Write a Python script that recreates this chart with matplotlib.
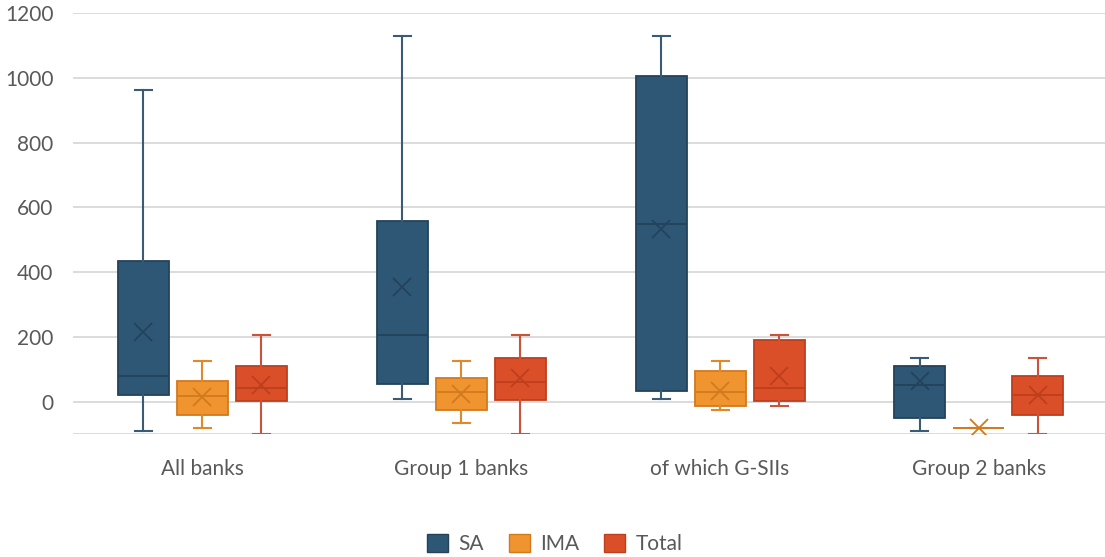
import matplotlib
matplotlib.use("Agg")
import matplotlib.pyplot as plt
from matplotlib.patches import Patch
import numpy as np

plt.rcParams['font.family'] = ['Lato', 'DejaVu Sans']

categories = ["All banks", "Group 1 banks", "of which G-SIIs", "Group 2 banks"]
series = ["SA", "IMA", "Total"]

# per series: values for each category
sa_whislo = [-92, 8, 8, -92]
sa_q1 = [21, 55, 34, -52]
sa_med = [80, 206, 547, 52]
sa_q3 = [434, 557, 1005, 111]
sa_whishi = [962, 1129, 1129, 134]
sa_mean = [214, 354, 534, 65]

ima_whislo = [-83, -67, -25, -83]
ima_q1 = [-41, -25, -14, -83]
ima_med = [16, 29, 29, -83]
ima_q3 = [65, 72, 93, -83]
ima_whishi = [124, 124, 124, -83]
ima_mean = [13, 24, 34, -83]

tot_whislo = [-100, -100, -12, -100]
tot_q1 = [3, 6, 3, -41]
tot_med = [41, 60, 42, 21]
tot_q3 = [111, 134, 191, 78]
tot_whishi = [206, 206, 206, 134]
tot_mean = [52, 72, 78, 21]

yticks = [0, 200, 400, 600, 800, 1000, 1200]

fill_colors = ["#2e5675", "#ef942f", "#db4f28"]
edge_colors = ["#23435c", "#d27a1e", "#bd3f1d"]
whisk_colors = ["#3a5b75", "#e0882a", "#c9543a"]

data = [
    (sa_whislo, sa_q1, sa_med, sa_q3, sa_whishi, sa_mean),
    (ima_whislo, ima_q1, ima_med, ima_q3, ima_whishi, ima_mean),
    (tot_whislo, tot_q1, tot_med, tot_q3, tot_whishi, tot_mean),
]

fig = plt.figure(figsize=(11.05, 5.57), dpi=100)
ax = fig.add_axes([73/1105, 1 - 434/557, 1 - 73/1105 + 0.003, (434 - 13)/557])

offsets = [-0.228, 0.0, 0.228]
bw = 0.197
for s, (wl, q1, md, q3, wh, mn) in enumerate(data):
    stats = []
    for i in range(len(categories)):
        stats.append(dict(whislo=wl[i], q1=q1[i], med=md[i], q3=q3[i],
                          whishi=wh[i], mean=mn[i], fliers=[]))
    pos = [i + offsets[s] for i in range(len(categories))]
    ax.bxp(stats, positions=pos, widths=bw, capwidths=0.066,
           showmeans=True, patch_artist=True, manage_ticks=False,
           boxprops=dict(facecolor=fill_colors[s], edgecolor=edge_colors[s], linewidth=1.3),
           medianprops=dict(color=edge_colors[s], linewidth=1.3),
           whiskerprops=dict(color=whisk_colors[s], linewidth=1.5),
           capprops=dict(color=whisk_colors[s], linewidth=1.5),
           meanprops=dict(marker='x', markersize=13, markeredgecolor=edge_colors[s],
                          markeredgewidth=1.3, markerfacecolor='none'))

ax.set_xlim(-0.5, 3.5)
ax.set_ylim(-100, 1200)
ax.set_yticks(yticks)
ax.set_yticklabels([str(t) for t in yticks])
ax.set_xticks(range(len(categories)))
ax.set_xticklabels(categories)
ax.tick_params(axis='both', length=0, labelsize=15, colors='#595959')
ax.tick_params(axis='y', pad=14)
ax.tick_params(axis='x', pad=18)
ax.grid(axis='y', color='#d9d9d9', linewidth=1.3)
ax.axhline(-100, color='#d9d9d9', linewidth=1.3, zorder=0.5)
ax.set_axisbelow(True)
for sp in ax.spines.values():
    sp.set_visible(False)

handles = [Patch(facecolor=fill_colors[i], edgecolor=edge_colors[i], label=series[i]) for i in range(3)]
fig.legend(handles=handles, loc='center', bbox_to_anchor=(555/1105, 1 - 544/557), ncol=3,
           frameon=False, fontsize=15, labelcolor='#595959', handlelength=1.0, handleheight=1.0,
           handletextpad=0.5, columnspacing=1.2)

fig.savefig("out.png", dpi=100)
